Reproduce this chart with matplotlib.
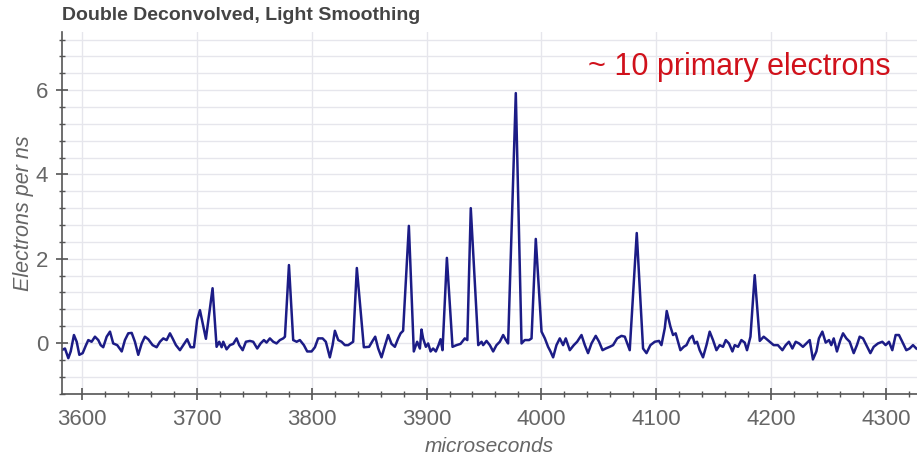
import numpy as np
import matplotlib.pyplot as plt
from matplotlib.ticker import MultipleLocator

# Deconvolved waveform, sampled along the trace
time_us = [
    3582.3, 3585.2, 3588.1, 3590.2, 3593.0, 3595.4, 3597.7, 3600.6, 3603.5, 3605.5,
    3608.4, 3611.3, 3614.2, 3616.3, 3618.5, 3621.5, 3624.4, 3627.2, 3630.7, 3634.6,
    3637.4, 3640.3, 3643.3, 3646.1, 3649.0, 3652.0, 3654.8, 3657.7, 3661.5, 3665.0,
    3667.9, 3670.8, 3673.7, 3676.6, 3678.9, 3681.8, 3685.3, 3688.2, 3691.6, 3694.6,
    3697.5, 3700.3, 3702.7, 3707.9, 3713.7, 3717.2, 3719.5, 3721.6, 3723.0, 3725.9,
    3728.8, 3731.7, 3734.6, 3736.9, 3739.9, 3742.7, 3746.2, 3749.1, 3752.6, 3755.5,
    3758.4, 3760.7, 3763.6, 3766.5, 3769.4, 3772.3, 3775.2, 3776.7, 3780.2, 3783.9,
    3786.9, 3789.7, 3793.2, 3796.1, 3799.9, 3802.8, 3805.6, 3809.5, 3812.3, 3815.8,
    3818.2, 3820.2, 3823.1, 3826.0, 3828.9, 3831.8, 3836.1, 3839.3, 3845.4, 3850.0,
    3853.0, 3855.3, 3857.9, 3860.8, 3863.7, 3866.6, 3869.5, 3872.4, 3875.3, 3877.4,
    3879.6, 3884.6, 3888.9, 3891.8, 3894.2, 3895.6, 3897.0, 3899.4, 3901.4, 3903.5,
    3905.7, 3908.1, 3910.4, 3912.2, 3913.9, 3917.7, 3922.6, 3926.1, 3929.6, 3933.3,
    3935.5, 3938.5, 3945.0, 3947.9, 3949.3, 3952.2, 3955.1, 3958.0, 3960.9, 3963.8,
    3966.7, 3969.1, 3971.0, 3977.7, 3982.7, 3985.5, 3989.3, 3991.4, 3995.1, 4000.1,
    4003.0, 4005.8, 4007.9, 4010.2, 4013.1, 4016.0, 4018.9, 4021.2, 4024.7, 4028.2,
    4031.1, 4034.9, 4037.8, 4040.6, 4043.6, 4047.3, 4050.2, 4053.2, 4056.0, 4059.5,
    4062.4, 4065.9, 4069.7, 4072.6, 4076.9, 4083.0, 4088.5, 4091.5, 4094.9, 4098.7,
    4102.4, 4104.5, 4107.4, 4109.1, 4112.3, 4114.6, 4116.9, 4118.9, 4121.0, 4123.9,
    4126.3, 4129.1, 4131.5, 4133.5, 4135.5, 4137.8, 4140.7, 4143.7, 4146.5, 4149.4,
    4152.4, 4155.2, 4158.1, 4160.5, 4163.3, 4166.3, 4168.3, 4171.2, 4174.1, 4177.0,
    4179.0, 4182.0, 4185.7, 4190.1, 4193.5, 4195.3, 4198.7, 4202.2, 4205.9, 4209.8,
    4212.7, 4215.5, 4218.5, 4221.4, 4224.3, 4227.7, 4230.7, 4233.6, 4236.4, 4239.4,
    4241.6, 4244.6, 4247.5, 4250.4, 4252.4, 4254.5, 4257.3, 4260.3, 4262.6, 4265.5,
    4268.4, 4271.9, 4274.7, 4277.1, 4280.0, 4282.9, 4286.4, 4289.3, 4293.0, 4296.8,
    4299.7, 4302.6, 4305.5, 4308.4, 4311.3, 4314.2, 4317.7, 4320.6, 4323.5, 4326.4,
]
electrons_per_ns = [
    -0.17, -0.13, -0.36, -0.20, 0.19, 0.03, -0.28, -0.24, -0.05, 0.07,
    0.03, 0.15, 0.07, -0.05, -0.10, 0.15, 0.27, -0.01, -0.05, -0.20,
    0.07, 0.23, 0.24, 0.03, -0.28, -0.01, 0.15, 0.09, -0.05, -0.10,
    0.03, 0.11, 0.07, 0.23, 0.11, -0.05, -0.17, -0.05, 0.09, -0.10,
    -0.10, 0.55, 0.78, 0.10, 1.30, -0.09, 0.03, -0.10, 0.03, -0.15,
    -0.05, -0.02, 0.11, -0.05, -0.17, 0.03, 0.05, 0.03, -0.13, -0.01,
    0.07, 0.01, 0.11, 0.03, -0.01, 0.07, 0.11, 0.15, 1.85, 0.07,
    0.03, 0.07, -0.05, -0.20, -0.20, -0.10, 0.11, 0.11, 0.03, -0.34,
    -0.05, 0.29, 0.07, 0.03, -0.05, -0.05, 0.03, 1.78, -0.10, -0.09,
    0.05, 0.15, -0.13, -0.34, -0.07, 0.19, -0.02, -0.09, 0.11, 0.23,
    0.29, 2.78, -0.20, 0.03, -0.13, 0.32, 0.11, -0.09, -0.01, -0.20,
    -0.13, -0.20, -0.05, 0.09, -0.17, 2.02, -0.09, -0.05, -0.02, 0.11,
    0.07, 3.20, -0.05, 0.03, -0.05, 0.05, -0.05, -0.20, -0.05, 0.03,
    0.19, 0.07, -0.01, 5.93, -0.01, 0.07, 0.07, 0.11, 2.47, 0.27,
    0.11, -0.09, -0.20, -0.34, -0.05, 0.11, -0.05, 0.11, -0.17, -0.05,
    0.03, 0.19, -0.05, -0.24, -0.01, 0.17, 0.03, -0.17, -0.13, -0.09,
    -0.05, 0.11, 0.17, 0.15, -0.17, 2.61, -0.13, -0.24, -0.05, 0.03,
    0.05, -0.05, 0.35, 0.76, 0.39, 0.19, 0.23, 0.03, -0.17, -0.09,
    -0.05, 0.11, 0.17, -0.01, 0.03, -0.17, -0.34, -0.05, 0.27, 0.07,
    -0.17, -0.05, -0.09, 0.07, -0.01, -0.20, -0.05, -0.09, 0.07, 0.01,
    -0.17, 0.15, 1.61, 0.05, 0.15, 0.11, 0.03, -0.05, -0.05, -0.17,
    -0.05, 0.03, -0.13, 0.03, -0.01, -0.09, -0.01, 0.07, -0.39, -0.20,
    0.11, 0.27, 0.01, 0.07, -0.05, 0.11, -0.20, 0.07, 0.23, 0.11,
    0.03, -0.24, -0.05, 0.15, 0.11, -0.05, -0.24, -0.09, -0.01, 0.03,
    -0.05, 0.03, -0.17, 0.19, 0.19, 0.03, -0.17, -0.13, -0.05, -0.13,
]

x_ticks = [3600, 3700, 3800, 3900, 4000, 4100, 4200, 4300]
y_ticks = [0, 2, 4, 6]

plt.rcParams["font.family"] = ["Liberation Sans", "DejaVu Sans"]

fig = plt.figure(figsize=(9.17, 4.61), dpi=100)
ax = fig.add_axes([0.0676, 0.1453, 0.9324, 0.7853])

ax.plot(time_us, electrons_per_ns, color="#1c1c86", linewidth=1.8,
        solid_joinstyle="round")

ax.set_xlim(3582.6, 4327)
ax.set_ylim(-1.21, 7.38)
ax.set_xticks(x_ticks)
ax.set_yticks(y_ticks)
ax.xaxis.set_minor_locator(MultipleLocator(20))
ax.yaxis.set_minor_locator(MultipleLocator(0.4))

# grid: vertical at major ticks, horizontal at every minor tick
ax.grid(True, which="major", axis="x", color="#e6e6ec", linewidth=1)
ax.grid(True, which="both", axis="y", color="#e6e6ec", linewidth=1)
ax.set_axisbelow(True)

for side in ["top", "right"]:
    ax.spines[side].set_visible(False)
for side in ["left", "bottom"]:
    ax.spines[side].set_color("#555555")
    ax.spines[side].set_linewidth(1.2)

ax.tick_params(which="major", direction="inout", length=8, width=1.2,
               color="#555555", labelsize=16, labelcolor="#666666")
ax.tick_params(which="minor", direction="inout", length=5, width=1,
               color="#555555")
ax.tick_params(axis="x", pad=7)
ax.tick_params(axis="y", pad=6)

ax.set_xlabel("microseconds", fontsize=15, style="italic", color="#666666",
              labelpad=5)
ax.set_ylabel("Electrons per ns", fontsize=15.5, style="italic", color="#666666",
              labelpad=1)

fig.text(0.0676, 0.967, "Double Deconvolved, Light Smoothing", fontsize=14,
         fontweight="bold", color="#444444", va="center", ha="left")
ax.text(0.9696, 0.903, "~ 10 primary electrons", transform=ax.transAxes,
        fontsize=22, color="#d0111b", ha="right", va="center")

fig.savefig("out.png", dpi=100)
